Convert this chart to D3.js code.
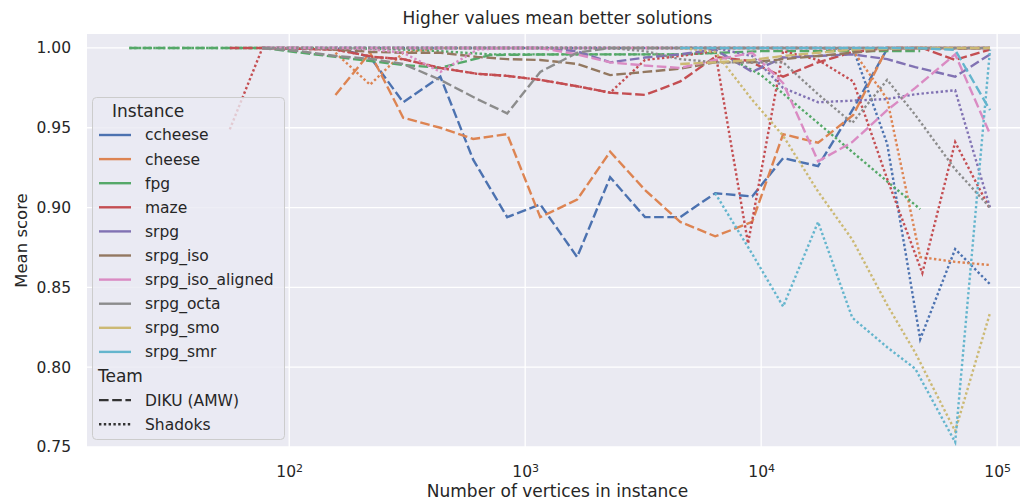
<!DOCTYPE html>
<html>
<head>
<meta charset="utf-8">
<script src="https://cdn.jsdelivr.net/npm/d3@7"></script>
<style>
  body { margin: 0; background: #fff; }
  text { font-family: "DejaVu Sans", sans-serif; fill: #262626; }
</style>
</head>
<body>
<div id="chart"></div>
<script>
const instances = ["ccheese", "cheese", "fpg", "maze", "srpg", "srpg_iso", "srpg_iso_aligned", "srpg_octa", "srpg_smo", "srpg_smr"];
const colors = ["#4c72b0", "#dd8452", "#55a868", "#c44e52", "#8172b3", "#937860", "#da8bc3", "#8c8c8c", "#ccb974", "#64b5cd"];
const teams = ["DIKU (AMW)", "Shadoks"];
const yTicks = [0.75, 0.80, 0.85, 0.90, 0.95, 1.00];
const xTicks = [100, 1000, 10000, 100000];

// instance sizes (number of vertices)
const cheeseSizes = [157, 220, 304, 437, 602, 839, 1158, 1660, 2291, 3219, 4540, 6385, 9160, 12390, 17430, 24560, 34200, 47200, 66400, 93300];
const fpgSizes = [21, 56, 77, 157, 304, 437, 711, 1406, 2291, 4540, 6700, 10000, 47200];
const mazeSizes = [56, 77, 157, 227, 304, 437, 626, 839, 1158, 1660, 2291, 3219, 4540, 6385, 8800, 12390, 17430, 24560, 34200, 48200, 66400, 93300];
const srpgSizes = [77, 111, 157, 227, 304, 437, 626, 839, 1158, 1660, 2291, 3219, 4540, 6385, 9160, 12390, 17430, 24320, 34200, 45000, 66400, 93300];

// mean scores, DIKU then Shadoks
const ccheeseDiku = [1.0, 0.9944, 0.966, 0.982, 0.93, 0.894, 0.902, 0.869, 0.919, 0.894, 0.894, 0.909, 0.907, 0.931, 0.926, 0.962, 0.9994, 1, 1, 1];
const ccheeseShadoks = [1, 1, 1, 1, 1, 1, 1, 1, 1, 1, 1, 1, 1, 1, 1, 0.9994, 0.94, 0.8175, 0.874, 0.852];
const cheeseDiku = [0.9706, 0.997, 0.9563, 0.95, 0.943, 0.946, 0.894, 0.905, 0.935, 0.911, 0.891, 0.882, 0.891, 0.946, 0.9406, 0.958, 1.0, 1, 1, 1];
const cheeseShadoks = [0.997, 0.977, 0.997, 1, 1, 1, 1, 1, 1, 1, 1, 1, 1, 1, 1, 0.998, 0.968, 0.869, 0.866, 0.864];
const fpgDiku = [1, 1, 1, 0.9944, 0.9894, 0.9875, 0.9956, 0.996, 0.996, 0.996, 0.997, 0.998, 0.998];
const fpgShadoks = [1, 1, 1, 1, 0.999, 0.998, 0.996, 0.996, 0.996, 0.996, 0.997, 0.983, 0.899];
const mazeDiku = [1, 1, 0.999, 0.9944, 0.993, 0.9875, 0.9838, 0.9825, 0.98, 0.976, 0.972, 0.9706, 0.979, 0.9944, 0.992, 0.982, 0.991, 0.9975, 1.0, 1.0, 0.9925, 0.999];
const mazeShadoks = [0.949, 1, 0.999, 0.9944, 0.993, 0.9875, 0.9838, 0.9825, 0.98, 0.976, 0.972, 0.9925, 0.995, 0.998, 0.8775, 0.998, 0.9925, 0.979, 0.918, 0.859, 0.941, 0.899];
const srpgDiku = [1, 1, 1, 1, 1, 1, 1, 1, 1, 0.998, 0.991, 0.994, 0.996, 0.999, 0.985, 0.994, 0.995, 0.996, 0.993, 0.988, 0.982, 0.996];
const srpgShadoks = [1, 1, 1, 1, 1, 1, 1, 1, 1, 1, 1, 1, 1, 1, 0.995, 0.975, 0.966, 0.967, 0.968, 0.971, 0.9735, 0.9];
const srpgIsoDiku = [1, 1, 0.999, 0.9975, 0.997, 0.997, 0.9944, 0.993, 0.9925, 0.99, 0.983, 0.985, 0.987, 0.991, 0.991, 0.993, 0.995, 0.997, 0.999, 0.9994, 0.9994, 1];
const srpgIsoShadoks = [1, 1, 1, 1, 1, 1, 1, 1, 1, 1, 1, 1, 1, 1, 1, 1, 1, 1, 1, 1, 1, 1];
const srpgIsoAlignedDiku = [1, 1, 1, 1, 1, 1, 1, 1, 1, 0.996, 0.991, 0.989, 0.9875, 0.9925, 0.997, 0.978, 0.929, 0.941, 0.961, 0.975, 0.996, 0.946];
const srpgIsoAlignedShadoks = [1, 1, 1, 0.999, 0.997, 0.985, 0.999, 1, 1, 1, 1, 1, 1, 1, 1, 1, 1, 1, 1, 1, 1, 1];
const srpgOctaDiku = [1, 0.998, 0.995, 0.993, 0.99, 0.98, 0.968, 0.959, 0.985, 0.997, 1, 1, 1, 1, 1, 1, 1, 1, 1, 1, 1, 1];
const srpgOctaShadoks = [1, 1, 1, 1, 1, 1, 1, 1, 1, 1, 1, 0.998, 0.993, 0.991, 0.991, 0.991, 0.971, 0.953, 0.98, 0.958, 0.924, 0.9];
const srpgSmoDiku = [null, null, null, null, null, null, null, null, null, null, null, null, 0.99, 0.991, 0.9925, 0.995, 0.997, 0.999, 0.9994, 1, 1, 1];
const srpgSmoShadoks = [null, null, null, null, null, null, null, null, null, null, null, null, 1.0, 0.9975, 0.9675, 0.945, 0.91, 0.88, 0.839, 0.809, 0.76, 0.834];
const srpgSmrDiku = [null, null, null, null, null, null, null, null, null, null, null, null, 1, 1, 1, 1, 1, 1, 1, 1, 0.9988, 0.961];
const srpgSmrShadoks = [null, null, null, null, null, null, null, null, null, null, null, null, null, 0.909, 0.871, 0.838, 0.891, 0.831, 0.8125, 0.799, 0.753, 0.999];

const runs = [
  [cheeseSizes, ccheeseDiku, ccheeseShadoks],
  [cheeseSizes, cheeseDiku, cheeseShadoks],
  [fpgSizes, fpgDiku, fpgShadoks],
  [mazeSizes, mazeDiku, mazeShadoks],
  [srpgSizes, srpgDiku, srpgShadoks],
  [srpgSizes, srpgIsoDiku, srpgIsoShadoks],
  [srpgSizes, srpgIsoAlignedDiku, srpgIsoAlignedShadoks],
  [srpgSizes, srpgOctaDiku, srpgOctaShadoks],
  [srpgSizes, srpgSmoDiku, srpgSmoShadoks],
  [srpgSizes, srpgSmrDiku, srpgSmrShadoks],
];

const lw = 2.4;
const dashes = ["9.6,3.6", "2.4,2.4"];

const margin = {top: 34, right: 2, bottom: 54, left: 87};
const width = 1022 - margin.left - margin.right;
const height = 501 - margin.top - margin.bottom;

const root = d3.select("#chart")
  .append("svg")
  .attr("width", 1022)
  .attr("height", 501);

const svg = root.append("g")
  .attr("transform", `translate(${margin.left}, ${margin.top})`);

const x = d3.scaleLog()
  .domain([13.9, 125000])
  .range([0, width]);
const y = d3.scaleLinear()
  .domain([0.75, 1.00875])
  .range([height, 0]);

svg.append("rect")
  .attr("width", width)
  .attr("height", height)
  .attr("fill", "#eaeaf2");

// grid
svg.append("g")
  .selectAll("line")
  .data(yTicks)
  .join("line")
  .attr("x1", 0).attr("x2", width)
  .attr("y1", d => y(d)).attr("y2", d => y(d))
  .attr("stroke", "#fff").attr("stroke-width", 1.3);
svg.append("g")
  .selectAll("line")
  .data(xTicks)
  .join("line")
  .attr("y1", 0).attr("y2", height)
  .attr("x1", d => x(d)).attr("x2", d => x(d))
  .attr("stroke", "#fff").attr("stroke-width", 1.3);

// axes
const yAxis = svg.append("g")
  .call(d3.axisLeft(y).tickValues(yTicks).tickFormat(d3.format(".2f")).tickSize(0).tickPadding(16));
yAxis.select(".domain").remove();
yAxis.selectAll("text").style("font-size", "15.5px").attr("fill", "#262626");

const xAxis = svg.append("g")
  .attr("transform", `translate(0, ${height})`)
  .call(d3.axisBottom(x).tickValues(xTicks).tickFormat(() => "").tickSize(0));
xAxis.select(".domain").remove();
xAxis.selectAll(".tick text")
  .attr("y", 30)
  .attr("dy", 0)
  .style("font-size", "15.5px")
  .attr("fill", "#262626")
  .each(function(d) {
    const t = d3.select(this);
    t.append("tspan").text("10");
    t.append("tspan").text(Math.round(Math.log10(d)))
      .attr("dy", "-0.5em").style("font-size", "11px");
  });

// lines
const line = d3.line()
  .defined(d => d[1] != null)
  .x(d => x(d[0]))
  .y(d => y(d[1]));

runs.forEach((run, i) => {
  const sizes = run[0];
  [run[1], run[2]].forEach((vals, j) => {
    const pts = sizes.map((n, k) => [n, vals[k]]);
    svg.append("path")
      .datum(pts)
      .attr("d", line)
      .attr("fill", "none")
      .attr("stroke", colors[i])
      .attr("stroke-width", lw)
      .attr("stroke-dasharray", dashes[j]);
  });
});

// labels
root.append("text")
  .attr("x", margin.left + width / 2 + 4)
  .attr("y", 24)
  .attr("text-anchor", "middle")
  .style("font-size", "17px")
  .text("Higher values mean better solutions");
root.append("text")
  .attr("x", margin.left + width / 2 + 4)
  .attr("y", 497)
  .attr("text-anchor", "middle")
  .style("font-size", "17px")
  .text("Number of vertices in instance");
root.append("text")
  .attr("transform", `translate(27, ${margin.top + height / 2}) rotate(-90)`)
  .attr("text-anchor", "middle")
  .style("font-size", "16.5px")
  .text("Mean score");

// legend
const legend = root.append("g");
legend.append("rect")
  .attr("x", 92.5).attr("y", 97.5)
  .attr("width", 192).attr("height", 342)
  .attr("rx", 4)
  .attr("fill", "#eaeaf2").attr("fill-opacity", 0.8)
  .attr("stroke", "#cccccc").attr("stroke-width", 1);

const step = 24.1;
legend.append("text")
  .attr("x", 112).attr("y", 111).attr("dy", "0.35em")
  .style("font-size", "17px")
  .text("Instance");
instances.forEach((name, i) => {
  const cy = 135 + i * step;
  legend.append("line")
    .attr("x1", 99).attr("x2", 131).attr("y1", cy).attr("y2", cy)
    .attr("stroke", colors[i]).attr("stroke-width", lw);
  legend.append("text")
    .attr("x", 145).attr("y", cy).attr("dy", "0.35em")
    .style("font-size", "15.5px")
    .text(name);
});
legend.append("text")
  .attr("x", 98).attr("y", 135 + 10 * step).attr("dy", "0.35em")
  .style("font-size", "17px")
  .text("Team");
teams.forEach((name, j) => {
  const cy = 135 + (11 + j) * step;
  legend.append("line")
    .attr("x1", 99).attr("x2", 131).attr("y1", cy).attr("y2", cy)
    .attr("stroke", "#333333").attr("stroke-width", lw)
    .attr("stroke-dasharray", dashes[j]);
  legend.append("text")
    .attr("x", 145).attr("y", cy).attr("dy", "0.35em")
    .style("font-size", "15.5px")
    .text(name);
});
</script>
</body>
</html>
